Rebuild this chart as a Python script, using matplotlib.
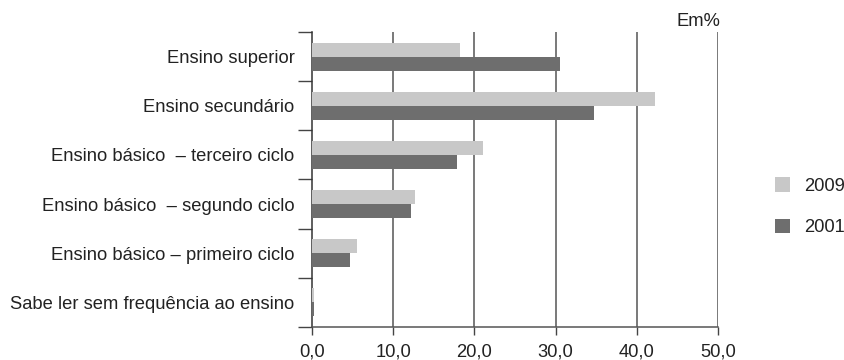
import numpy as np
import matplotlib.pyplot as plt

plt.rcParams['font.family'] = ['Liberation Sans', 'DejaVu Sans']

categorias = ['Ensino superior',
              'Ensino secundário',
              'Ensino básico  – terceiro ciclo',
              'Ensino básico  – segundo ciclo',
              'Ensino básico – primeiro ciclo',
              'Sabe ler sem frequência ao ensino']
v2009 = [18.2, 42.3, 21.0, 12.7, 5.5, 0.3]
v2001 = [30.6, 34.7, 17.9, 12.2, 4.7, 0.3]
xticks = [0, 10, 20, 30, 40, 50]
xlabels = ['0,0', '10,0', '20,0', '30,0', '40,0', '50,0']

cor_2009 = '#c8c8c8'
cor_2001 = '#6e6e6e'
fs = 13.2

fig = plt.figure(figsize=(8.45, 3.6), dpi=100)
ax = fig.add_axes([0.3692, 0.0917, 0.4805, 0.8194])

n = len(categorias)
y = np.arange(n)[::-1]
h = 0.285
ax.barh(y + h / 2, v2009, height=h, color=cor_2009, label='2009', zorder=3)
ax.barh(y - h / 2, v2001, height=h, color=cor_2001, label='2001', zorder=3)

ax.set_xlim(0, 50)
ax.set_ylim(-0.5, n - 0.5)
ax.set_xticks(xticks)
ax.set_xticklabels(xlabels, fontsize=fs, color='#222222')
ax.set_yticks(y)
ax.set_yticklabels(categorias, fontsize=fs, color='#222222')
ax.tick_params(axis='y', length=0, pad=12.5)
ax.set_yticks(np.arange(n + 1) - 0.5, minor=True)
ax.tick_params(axis='y', which='minor', length=10, width=1, color='#444444')
ax.tick_params(axis='x', length=6, width=1, color='#444444', pad=6)

for v in xticks[1:]:
    ax.axvline(v, color='#555555', lw=1.1, zorder=1)

for s in ['top', 'right']:
    ax.spines[s].set_visible(False)
ax.spines['left'].set_color('#333333')
ax.spines['bottom'].set_color('#555555')
ax.spines['left'].set_linewidth(1.1)
ax.spines['bottom'].set_linewidth(1.1)

fig.text(0.853, 0.94, 'Em%', ha='right', va='center', fontsize=fs, color='#222222')

leg = fig.legend(loc='center left', bbox_to_anchor=(0.906, 0.426), frameon=False,
                 fontsize=fs, handlelength=0.85, handleheight=0.85,
                 labelspacing=1.3, handletextpad=0.75, borderpad=0)
for t in leg.get_texts():
    t.set_color('#222222')

fig.savefig('out.png', dpi=100)
